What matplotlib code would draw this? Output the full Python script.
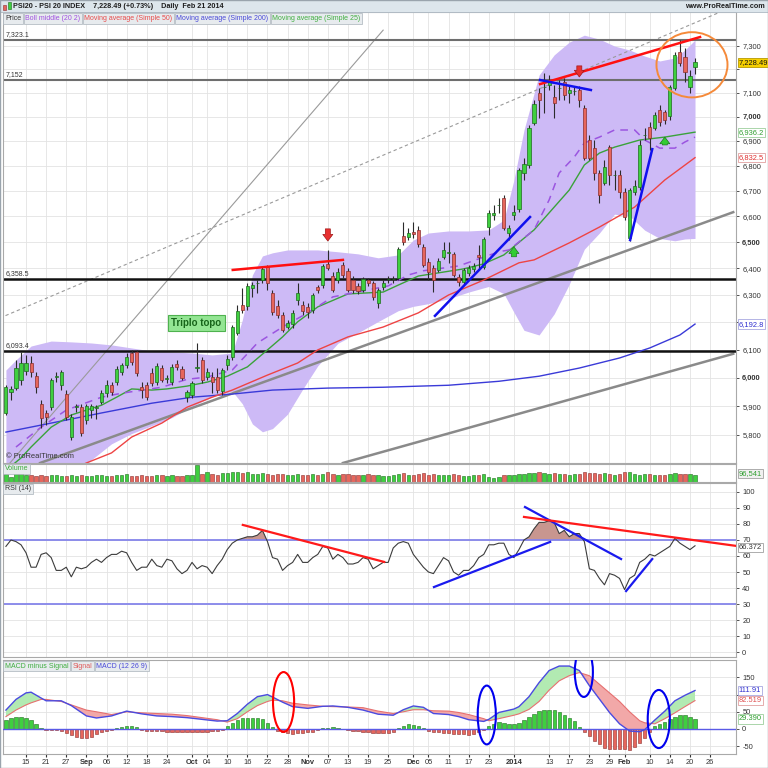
import matplotlib
matplotlib.use("Agg")
import matplotlib.pyplot as plt
import matplotlib.transforms as mtransforms
from matplotlib import font_manager
from matplotlib.patches import Ellipse, Rectangle
from matplotlib.ticker import NullLocator
import numpy as np

_names = {f.name for f in font_manager.fontManager.ttflist}
NARROW = 'Liberation Sans Narrow' in _names
plt.rcParams['font.family'] = ['Liberation Sans Narrow' if NARROW else 'Liberation Sans', 'DejaVu Sans']
FS = 6.2 if NARROW else 5.4
CAP = FS * 0.93      # caption boxes
HEAD = FS * 0.97     # header line

W = H = 768

# daily candles, index 0 = 9 Aug 2013 ... 137 = 21 Feb 2014
opens = [5876, 5949, 5963, 5991, 6023, 6052, 6005, 5907, 5876, 5896,
         6002, 5973, 5942, 5793, 5896, 5896, 5852, 5886, 5893, 5914,
         5945, 5973, 5984, 6020, 6045, 6088, 6092, 5966, 5973, 6016,
         5984, 6034, 5995, 5984, 6048, 6030, 5931, 5938, 6034, 6063,
         6002, 6002, 6002, 5952, 6045, 6074, 6160, 6264, 6260, 6326,
         6345, 6356, 6406, 6308, 6260, 6226, 6182, 6193, 6282, 6264,
         6256, 6245, 6330, 6337, 6417, 6371, 6356, 6413, 6391, 6356,
         6334, 6319, 6356, 6345, 6271, 6330, 6360, 6359, 6364, 6524,
         6520, 6539, 6547, 6482, 6424, 6402, 6394, 6444, 6459, 6455,
         6368, 6349, 6383, 6398, 6451, 6406, 6558, 6604, 6644, 6672,
         6535, 6604, 6628, 6771, 6803, 6974, 7099, 7124, 7132, 7082,
         7119, 7145, 7099, 7107, 7111, 7036, 6904, 6871, 6771, 6731,
         6875, 6763, 6763, 6695, 6516, 6695, 6715, 6924, 6957, 6953,
         7028, 7019, 7003, 7119, 7272, 7251, 7124, 7208]
highs = [5973, 5970, 6063, 6092, 6081, 6077, 6020, 5921, 5886, 5998,
         6020, 6027, 5956, 5872, 5907, 5907, 5907, 5907, 5903, 5956,
         5991, 5984, 6041, 6052, 6088, 6099, 6099, 5984, 5984, 6034,
         6052, 6045, 6009, 6048, 6063, 6041, 5956, 5987, 6124, 6074,
         6034, 6020, 6034, 6034, 6081, 6189, 6264, 6326, 6345, 6348,
         6356, 6406, 6413, 6319, 6282, 6238, 6208, 6245, 6345, 6278,
         6271, 6308, 6337, 6417, 6470, 6387, 6402, 6424, 6402, 6371,
         6345, 6368, 6364, 6352, 6326, 6356, 6371, 6371, 6482, 6578,
         6555, 6578, 6562, 6493, 6440, 6413, 6440, 6501, 6501, 6463,
         6379, 6402, 6413, 6421, 6489, 6520, 6624, 6644, 6672, 6684,
         6566, 6644, 6791, 6831, 6965, 7069, 7119, 7183, 7174, 7132,
         7153, 7162, 7128, 7124, 7128, 7048, 6924, 6904, 6783, 6823,
         6883, 6783, 6783, 6711, 6711, 6743, 6904, 6953, 6978, 7019,
         7048, 7028, 7132, 7272, 7324, 7290, 7196, 7247]
lows = [5869, 5921, 5956, 5973, 6009, 6002, 5945, 5824, 5834, 5886,
        5984, 5956, 5852, 5783, 5879, 5797, 5838, 5859, 5855, 5907,
        5931, 5938, 5973, 6009, 6034, 6045, 6005, 5928, 5921, 5970,
        5973, 5984, 5980, 5973, 6027, 5991, 5914, 5928, 6020, 5980,
        5991, 5945, 5945, 5938, 6027, 6063, 6153, 6234, 6245, 6293,
        6308, 6345, 6319, 6226, 6215, 6164, 6175, 6179, 6264, 6226,
        6215, 6234, 6308, 6326, 6394, 6311, 6345, 6364, 6311, 6308,
        6304, 6311, 6334, 6282, 6252, 6319, 6345, 6345, 6356, 6489,
        6508, 6516, 6482, 6406, 6356, 6311, 6387, 6436, 6421, 6368,
        6334, 6341, 6371, 6387, 6394, 6398, 6528, 6585, 6612, 6547,
        6508, 6585, 6616, 6743, 6791, 6965, 6994, 7015, 7111, 6994,
        7069, 7069, 7057, 7090, 7040, 6823, 6823, 6743, 6652, 6723,
        6723, 6703, 6672, 6585, 6504, 6684, 6703, 6904, 6863, 6945,
        6961, 6970, 6986, 7111, 7212, 7145, 7099, 7179]
closes = [5966, 5960, 6034, 6052, 6052, 6020, 5966, 5859, 5862, 5991,
          6005, 6020, 5862, 5862, 5900, 5807, 5900, 5900, 5897, 5945,
          5973, 5949, 6030, 6045, 6074, 6056, 6016, 5956, 5931, 5980,
          6041, 5991, 5998, 6038, 6038, 5998, 5949, 5980, 6038, 5991,
          6020, 5984, 5956, 6027, 6067, 6182, 6241, 6245, 6334, 6337,
          6346, 6398, 6345, 6238, 6226, 6171, 6197, 6234, 6308, 6241,
          6238, 6300, 6319, 6409, 6402, 6319, 6387, 6375, 6319, 6319,
          6315, 6360, 6345, 6293, 6319, 6345, 6361, 6360, 6474, 6501,
          6535, 6531, 6493, 6413, 6387, 6356, 6428, 6470, 6460, 6375,
          6349, 6394, 6402, 6409, 6444, 6512, 6612, 6612, 6645, 6555,
          6555, 6616, 6783, 6807, 6953, 7052, 7069, 7125, 7145, 7057,
          7120, 7090, 7111, 7108, 7069, 6831, 6831, 6771, 6684, 6795,
          6763, 6764, 6695, 6597, 6703, 6719, 6883, 6925, 6912, 7007,
          6978, 6986, 7124, 7259, 7225, 7187, 7170, 7228.49]
volume = [110, 70, 120, 140, 95, 90, 85, 90, 80, 95,
          100, 85, 80, 95, 75, 90, 80, 85, 95, 100,
          80, 85, 95, 100, 110, 85, 80, 95, 85, 75,
          100, 95, 80, 90, 85, 80, 90, 95, 235, 110,
          140, 110, 100, 125, 120, 130, 135, 125, 130, 115,
          110, 120, 115, 100, 110, 105, 95, 100, 110, 95,
          100, 105, 90, 110, 130, 105, 100, 110, 105, 95,
          90, 100, 110, 95, 100, 80, 85, 95, 115, 120,
          95, 90, 105, 125, 100, 110, 95, 100, 90, 110,
          95, 80, 85, 95, 100, 105, 70, 60, 65, 100,
          95, 90, 110, 115, 120, 125, 135, 120, 110, 125,
          105, 110, 100, 105, 115, 130, 125, 120, 110, 125,
          115, 100, 110, 130, 140, 110, 100, 105, 115, 95,
          100, 95, 110, 120, 115, 105, 110, 96.541]

# overlays: bar index -> value
sma200_k = [0, 9, 19, 29, 37, 45, 53, 64, 75, 88, 98, 106, 114, 122, 128, 134, 137]
sma200 = [5810, 5841, 5876, 5910, 5931, 5942, 5956, 5963, 5966, 5973, 5987, 6005, 6034, 6070, 6106, 6153, 6192.8]
sma50_k = [13, 16, 21, 25, 31, 36, 41, 45, 52, 58, 62, 68, 75, 82, 88, 95, 102, 105, 112, 118, 125, 131, 137]
sma50 = [5681, 5705, 5739, 5793, 5841, 5896, 5931, 5956, 6009, 6052, 6099, 6146, 6182, 6234, 6300, 6356,
         6421, 6432, 6497, 6558, 6636, 6743, 6832.5]
sma25_k = [0, 3, 5, 9, 13, 19, 22, 25, 29, 32, 36, 40, 44, 48, 52, 55, 58, 62, 68, 75, 78, 82, 91, 95, 99,
           105, 112, 115, 118, 121, 126, 131, 137]
sma25 = [5680, 5722, 5759, 5827, 5869, 5903, 5931, 5960, 5956, 5960, 5970, 5984, 6005, 6038, 6099, 6146,
         6201, 6256, 6304, 6311, 6337, 6371, 6398, 6417, 6451, 6547, 6703, 6803, 6851, 6875, 6904, 6916, 6936.2]
bb_mid_k = [2, 7, 12, 19, 23, 31, 36, 40, 45, 50, 55, 60, 65, 69, 76, 80, 83, 90, 98, 100, 105, 108, 110,
            113, 115, 118, 121, 125, 127, 130, 133, 135, 137]
bb_mid = [5759, 5827, 5886, 5931, 5945, 5966, 5994, 6002, 6027, 6124, 6182, 6234, 6293, 6308, 6334, 6375,
          6391, 6409, 6463, 6470, 6547, 6664, 6771, 6835, 6892, 6916, 6945, 6945, 6904, 6871, 6871, 6896, 6916]
bb_k = [0, 2, 5, 9, 13, 17, 21, 25, 29, 33, 37, 41, 45, 47, 49, 51, 53, 56, 59, 62, 66, 70, 74, 78, 81, 84,
        88, 92, 96, 99, 101, 103, 106, 109, 112, 115, 118, 121, 124, 127, 130, 133, 135, 137]
bb_upper = [6027, 6063, 6113, 6131, 6128, 6124, 6117, 6106, 6095, 6092, 6088, 6081, 6088, 6208, 6375, 6447,
            6459, 6470, 6470, 6470, 6463, 6455, 6440, 6451, 6508, 6535, 6543, 6543, 6547, 6585, 6743, 6945,
            7174, 7260, 7315, 7345, 7328, 7298, 7281, 7255, 7234, 7247, 7281, 7324]
bb_lower = [5453, 5455, 5477, 5569, 5662, 5716, 5770, 5805, 5832, 5860, 5899, 5932, 5952, 5908, 5838, 5811,
            5822, 5872, 5959, 6042, 6123, 6161, 6202, 6242, 6258, 6268, 6286, 6311, 6332, 6305, 6236, 6170,
            6153, 6230, 6340, 6473, 6535, 6608, 6601, 6546, 6514, 6505, 6512, 6514]

levels = [7323.1, 7152, 6358.5, 6093.4]
level_labels = ['7,323.1', '7,152', '6,358.5', '6,093.4']

rsi = [66, 70, 69, 67, 62, 53, 53, 61, 62, 59,
       51, 51, 53, 47, 53, 52, 53, 56, 58, 56,
       59, 61, 61, 63, 62, 56, 51, 53, 53, 58,
       54, 53, 58, 57, 52, 49, 51, 56, 52, 54,
       53, 49, 54, 58, 64, 68, 70, 71, 72, 72,
       73, 76, 69, 59, 58, 51, 54, 56, 61, 56,
       56, 59, 61, 66, 65, 58, 61, 59, 55, 55,
       56, 59, 58, 52, 54, 56, 56, 65, 68, 69,
       68, 61, 57, 53, 50, 49, 54, 59, 57, 50,
       48, 51, 51, 54, 59, 61, 67, 67, 68, 68,
       61, 59, 64, 70, 72, 77, 81, 81, 82, 81,
       74, 76, 72, 74, 74, 69, 52, 51, 46, 42,
       49, 48, 46, 39, 46, 48, 56, 58, 61, 60,
       62, 64, 66, 71, 68, 66, 64, 66.372]

macd_k = [0, 2, 4, 5, 7, 8, 11, 13, 16, 18, 21, 24, 27, 30, 33, 36, 39, 42, 44, 46, 48, 50, 52, 53, 55, 57,
          60, 63, 65, 68, 71, 74, 77, 79, 81, 83, 85, 88, 90, 92, 95, 96, 98, 101, 102, 104, 106, 108, 110,
          112, 114, 116, 118, 120, 122, 124, 126, 127, 129, 131, 133, 135, 137]
macd = [55, 86, 105, 107, 90, 82, 82, 68, 38, 32, 38, 52, 44, 38, 36, 33, 28, 23, 24, 45, 72, 94, 100, 93,
        78, 65, 60, 66, 67, 63, 55, 43, 40, 56, 67, 63, 45, 42, 36, 27, 22, 28, 48, 58, 65, 94, 135, 170,
        183, 183, 170, 126, 87, 48, 15, -6, -8, -2, 26, 52, 82, 98, 111.91]
signal = [36, 55, 70, 76, 86, 86, 80, 70, 55, 50, 42, 50, 47, 45, 43, 39, 33, 27, 20, 30, 50, 68, 80, 84,
          82, 75, 70, 66, 65, 64, 62, 52, 45, 50, 56, 56, 53, 52, 48, 42, 30, 24, 30, 40, 44, 57, 80, 113,
          140, 155, 164, 155, 130, 105, 80, 50, 24, 18, 15, 30, 47, 65, 82.519]
hist = [26, 32, 36, 36, 32, 26, 14, 3, -3, -4, -4, -6, -12, -18, -22, -26, -26, -22, -16, -10,
        -6, -3, 3, 7, 8, 8, 5, -3, -5, -6, -7, -7, -8, -8, -9, -9, -10, -10, -9, -9,
        -8, -7, -6, -4, 8, 18, 27, 32, 33, 33, 32, 28, 18, 5, -6, -10, -13, -14, -12, -12,
        -10, -8, -4, 2, 4, 5, 4, 1, -3, -5, -7, -9, -10, -12, -13, -13, -12, -8, 2, 10,
        14, 13, 9, 2, -5, -8, -10, -12, -13, -14, -15, -16, -17, -15, -8, -3, 8, 15, 20, 18,
        15, 15, 18, 26, 35, 45, 52, 55, 55, 55, 48, 40, 32, 22, 6, -10, -20, -35, -45, -55,
        -58, -58, -57, -58, -61, -52, -42, -25, -8, 8, 15, 20, 28, 36, 42, 40, 36, 29.39]

tick_k = [4, 8, 12, 16, 20, 24, 28, 32, 37, 40, 44, 48, 52, 56, 60, 64, 68, 72, 76, 81, 84, 88, 92, 96,
          101, 108, 112, 116, 120, 123, 128, 132, 136, 140]
tick_lab = ['15', '21', '27', 'Sep', '06', '12', '18', '24', 'Oct', '04', '10', '16', '22', '28', 'Nov',
            '07', '13', '19', '25', 'Dec', '05', '11', '17', '23', '2014', '13', '17', '23', '29', 'Feb',
            '10', '14', '20', '26']
bold_lab = {'Sep', 'Oct', 'Nov', 'Dec', '2014', 'Feb'}

# hand drawn lines on the chart (bar index, value)
gray_thin = ([0.8, 75.0], [5705, 7367])
gray_dash = ([-1.2, 142.0], [6215, 7446])
gray_a = ([6.8, 144.6], [5705, 6616])
gray_b = ([67.0, 144.6], [5705, 6085])
red_lines = [([45.1, 67.0], [6394, 6432]), ([106.2, 138.0], [7136, 7337])]
blue_lines = [([106.2, 116.3], [7153, 7111]), ([85.3, 104.2], [6223, 6597]), ([124.1, 128.5], [6508, 6867])]
down_arrows = [(64, 6551, 6504), (114, 7213, 7166)]
up_arrows = [(101, 6444, 6482), (131, 6884, 6916)]
rsi_lines = [([47.1, 75.2], [79.4, 56.3], '#ff1a1a'), ([85.1, 108.2], [40.6, 68.8], '#1a1aee'),
             ([103.2, 122.3], [90.6, 58.1], '#1a1aee'), ([103.0, 145.2], [84.4, 66.3], '#ff1a1a'),
             ([123.3, 128.5], [38.1, 58.1], '#1a1aee')]
macd_rings = [(55.2, 78.5, 4.2, 174, '#ff0000'), (95.6, 40.7, 3.6, 171, '#0000ee'),
              (114.9, 165.7, 3.6, 145, '#0000ee'), (129.8, 29, 4.4, 169, '#0000ee')]

assert len(opens) == len(highs) == len(lows) == len(closes) == len(volume) == len(rsi) == len(hist) == 138

x = np.arange(len(closes))
o, hi, lo, c = map(np.array, (opens, highs, lows, closes))
up = c >= o
XL = (-0.58, 145.15)

fig = plt.figure(figsize=(W / 100, H / 100), dpi=100)
fig.patch.set_facecolor('white')


def panel(top, bottom, left=3, right=736):
    a = fig.add_axes([left / W, 1 - bottom / H, (right - left) / W, (bottom - top) / H])
    a.set_xlim(*XL)
    a.set_xticks(tick_k)
    a.tick_params(axis='x', labelbottom=False, length=0)
    a.grid(axis='x', color='#e3e3e3', lw=0.6)
    a.set_axisbelow(True)
    for s in a.spines.values():
        s.set_color('#a9a9a9')
        s.set_linewidth(0.8)
    a.yaxis.tick_right()
    a.tick_params(axis='y', labelsize=FS, colors='#333333', length=2.5, pad=2, width=0.6)
    return a


def side_box(a, val, txt, fc, ec, tc, xa=1.004):
    tr = mtransforms.blended_transform_factory(a.transAxes, a.transData)
    a.text(xa, val, txt, transform=tr, fontsize=FS, color=tc, va='center', ha='left', zorder=10,
           clip_on=False, bbox=dict(boxstyle='square,pad=0.15', fc=fc, ec=ec, lw=0.6))


# ---------------- price ----------------
ax = panel(12, 463)
ax.set_yscale('log')
ax.set_ylim(5704.9, 7446.3)
pt = list(range(5800, 7400, 100))
ax.set_yticks(pt, ['' if v in (6200, 7200) else f'{v:,}' for v in pt])
ax.yaxis.set_minor_locator(NullLocator())
for lab in ax.get_yticklabels():
    if lab.get_text() in ('6,000', '6,500', '7,000'):
        lab.set_fontweight('bold')
ax.grid(axis='y', color='#e3e3e3', lw=0.6)

ax.fill_between(bb_k, bb_lower, bb_upper, color='#cdbaf6', lw=0, zorder=1)
ax.plot(*gray_b, color='#8a8a8a', lw=1.8, zorder=2)
ax.plot(*gray_a, color='#8a8a8a', lw=1.8, zorder=2)
ax.plot(*gray_thin, color='#9a9a9a', lw=0.8, zorder=2)
ax.plot(*gray_dash, color='#9a9a9a', lw=0.8, ls=(0, (3, 2.5)), zorder=2)
for lv, lab, col, lw in zip(levels, level_labels, ['#6e6e6e', '#6e6e6e', '#111111', '#111111'], [1.5, 1.5, 1.8, 1.8]):
    ax.axhline(lv, color=col, lw=lw, zorder=2.5)
    ax.text(0.0, lv * 1.0012, lab, fontsize=FS - 0.4, color='#333333', va='bottom', ha='left', zorder=6)
ax.plot(sma200_k, sma200, color='#3a3ad8', lw=1.0, zorder=3)
ax.plot(sma50_k, sma50, color='#ee4444', lw=1.0, zorder=3)
ax.plot(sma25_k, sma25, color='#3aa23a', lw=1.0, zorder=3)
ax.plot(bb_mid_k, bb_mid, color='#9b55e0', lw=1.1, ls=(0, (5, 4)), zorder=3)

ax.vlines(x, lo, hi, color='#2b2b2b', lw=0.8, zorder=4)
ax.bar(x, np.maximum(np.abs(c - o), 1.5), bottom=np.minimum(o, c), width=0.62,
       color=np.where(up, '#3fcf3f', '#e6665c'), edgecolor=np.where(up, '#1d6d1d', '#8a2e2e'),
       lw=0.5, zorder=5)

for xs, ys in red_lines:
    ax.plot(xs, ys, color='#ff1010', lw=1.8, zorder=6)
for xs, ys in blue_lines:
    ax.plot(xs, ys, color='#1010ee', lw=1.8, zorder=6)
for k, p0, p1 in down_arrows:
    ax.annotate('', xy=(k, p1), xytext=(k, p0), zorder=7,
                arrowprops=dict(arrowstyle='simple,head_width=0.9,head_length=0.6,tail_width=0.45',
                                fc='#e83030', ec='#a01818', lw=0.5, shrinkA=0, shrinkB=0, mutation_scale=8))
for k, p0, p1 in up_arrows:
    ax.annotate('', xy=(k, p1), xytext=(k, p0), zorder=7,
                arrowprops=dict(arrowstyle='simple,head_width=0.9,head_length=0.6,tail_width=0.45',
                                fc='#33cc33', ec='#1c7a1c', lw=0.5, shrinkA=0, shrinkB=0, mutation_scale=8))

# orange ring around the last bars
inv = ax.transAxes.inverted()
cx, cy = inv.transform(ax.transData.transform((136.4, 7215)))
rx, _ = inv.transform(ax.transData.transform((136.4 + 7.06, 7215)))
_, yt = inv.transform(ax.transData.transform((136.4, 7358)))
_, yb = inv.transform(ax.transData.transform((136.4, 7080)))
ax.add_patch(Ellipse((cx, (yt + yb) / 2), 2 * (rx - cx), yt - yb, transform=ax.transAxes,
                     fill=False, ec='#f58a3a', lw=1.4, zorder=7))

ax.text(37.8, 6197, 'Triplo topo', ha='center', va='center', fontsize=FS + 1.6, color='#17641a',
        fontweight='bold', zorder=8,
        bbox=dict(boxstyle='square,pad=0.35', fc='#93e593', ec='#4fb24f', lw=0.8))
ax.text(0.004, 0.006, '\u00a9 ProRealTime.com', transform=ax.transAxes, fontsize=FS, color='#333333',
        va='bottom', ha='left', zorder=8)

side_box(ax, 7228.49, '7,228.49', '#f7d000', '#b89a00', '#111111')
side_box(ax, 6936.2, '6,936.2', 'white', '#9ccf9c', '#2e9e2e')
side_box(ax, 6832.5, '6,832.5', 'white', '#e0a0a0', '#e03030')
side_box(ax, 6192.8, '6,192.8', 'white', '#a8a8e0', '#3030d0')

# ---------------- volume ----------------
av = panel(464, 482)
av.set_ylim(0, 245)
av.set_yticks([])
av.bar(x, volume, width=0.66, color=np.where(up, '#3fcf3f', '#e6665c'),
       edgecolor=np.where(up, '#1d6d1d', '#8a2e2e'), lw=0.4)
side_box(av, 120, '96,541', '#f0f0f0', '#a0a0a0', '#2e9e2e')

# ---------------- RSI ----------------
ar = panel(483, 657)
ar.set_ylim(-3.1, 105.6)
ar.set_yticks(range(0, 101, 10))
ar.grid(axis='y', color='#e3e3e3', lw=0.6)
ra = np.array(rsi)
ar.fill_between(x, ra, 70, where=ra > 70, interpolate=True, color='#c8968f', lw=0, zorder=2)
ar.axhline(70, color='#8585ea', lw=1.3, zorder=2)
ar.axhline(30, color='#8585ea', lw=1.3, zorder=2)
ar.plot(x, ra, color='#3c3c3c', lw=0.8, zorder=3)
for xs, ys, col in rsi_lines:
    ar.plot(xs, ys, color=col, lw=1.6, zorder=4)
side_box(ar, 65.3, '66.372', 'white', '#a0a0a0', '#333333')

# ---------------- MACD ----------------
am = panel(660, 754)
am.set_ylim(-72.7, 200.6)
am.set_yticks([-50, 0, 50, 100, 150], ['-50', '0', '50', '', '150'])
am.grid(axis='y', color='#e3e3e3', lw=0.6)
mk, mv, sv = np.array(macd_k), np.array(macd), np.array(signal)
am.fill_between(mk, mv, sv, where=mv >= sv, interpolate=True, color='#b2eab2', lw=0, zorder=2)
am.fill_between(mk, mv, sv, where=mv < sv, interpolate=True, color='#f2a8a8', lw=0, zorder=2)
hv = np.array(hist)
am.bar(x, hv, width=0.66, color=np.where(hv >= 0, '#3fcf3f', '#e6665c'),
       edgecolor=np.where(hv >= 0, '#1d6d1d', '#8a2e2e'), lw=0.4, zorder=3)
am.axhline(0, color='#5a5ae6', lw=1.0, zorder=3)
am.plot(mk, sv, color='#e67070', lw=0.8, zorder=4)
am.plot(mk, mv, color='#4a4ae0', lw=1.0, zorder=4)
for ex, ey, ew, eh, col in macd_rings:
    am.add_patch(Ellipse((ex, ey), ew, eh, fill=False, ec=col, lw=1.5, zorder=6))
side_box(am, 111.91, '111.91', 'white', '#a8a8e0', '#3030d0')
side_box(am, 82.519, '82.519', 'white', '#e0a0a0', '#e05050')
side_box(am, 29.39, '29.390', 'white', '#9ccf9c', '#2e9e2e')

am.tick_params(axis='x', labelbottom=True, length=2, pad=1.5, labelsize=FS, colors='#333333')
am.set_xticklabels(tick_lab)
for lab in am.get_xticklabels():
    if lab.get_text() in bold_lab:
        lab.set_fontweight('bold')

# ---------------- header and panel captions ----------------
fig.add_artist(Rectangle((0, 1 - 12 / H), 1, 12 / H, transform=fig.transFigure,
                         fc='#dde6ec', ec='#aeb9c3', lw=0.6))
fig.add_artist(Rectangle((3 / W, 1 - 10 / H), 3 / W, 5 / H, transform=fig.transFigure,
                         fc='#e6665c', ec='#8a2e2e', lw=0.4))
fig.add_artist(Rectangle((8 / W, 1 - 9 / H), 3 / W, 7 / H, transform=fig.transFigure,
                         fc='#3fcf3f', ec='#1d6d1d', lw=0.4))
fig.text(13 / W, 1 - 6.5 / H, 'PSI20 - PSI 20 INDEX    7,228.49 (+0.73%)    Daily  Feb 21 2014',
         fontsize=HEAD, fontweight='bold', color='#1e1e1e', va='center', ha='left')
fig.text(765 / W, 1 - 6.5 / H, 'www.ProRealTime.com', fontsize=HEAD, fontweight='bold',
         color='#1e1e1e', va='center', ha='right')

renderer = fig.canvas.get_renderer()


def captions(items, x0, yc):
    xp = x0
    for txt, col in items:
        t = fig.text(xp / W, 1 - yc / H, txt, color=col, fontsize=CAP, va='center', ha='left', zorder=20,
                     bbox=dict(boxstyle='square,pad=0.22', fc='#e7ebee', ec='#aab3bb', lw=0.5))
        xp = t.get_window_extent(renderer).x1 + 4


captions([('Price', '#333333'), ('Boll middle (20 2)', '#a050e0'),
          ('Moving average (Simple 50)', '#e84a4a'), ('Moving average (Simple 200)', '#4848d8'),
          ('Moving average (Simple 25)', '#40ae40')], 5, 18.5)
captions([('Volume', '#40ae40')], 5, 469)
captions([('RSI (14)', '#333333')], 5, 489)
captions([('MACD minus Signal', '#40ae40'), ('Signal', '#e05a5a'), ('MACD (12 26 9)', '#4848d8')], 5, 666)

fig.add_artist(Rectangle((0, 0), 1, 1, transform=fig.transFigure, fill=False, ec='#9aa4ad', lw=1.0))

fig.savefig('out.png', dpi=100)
